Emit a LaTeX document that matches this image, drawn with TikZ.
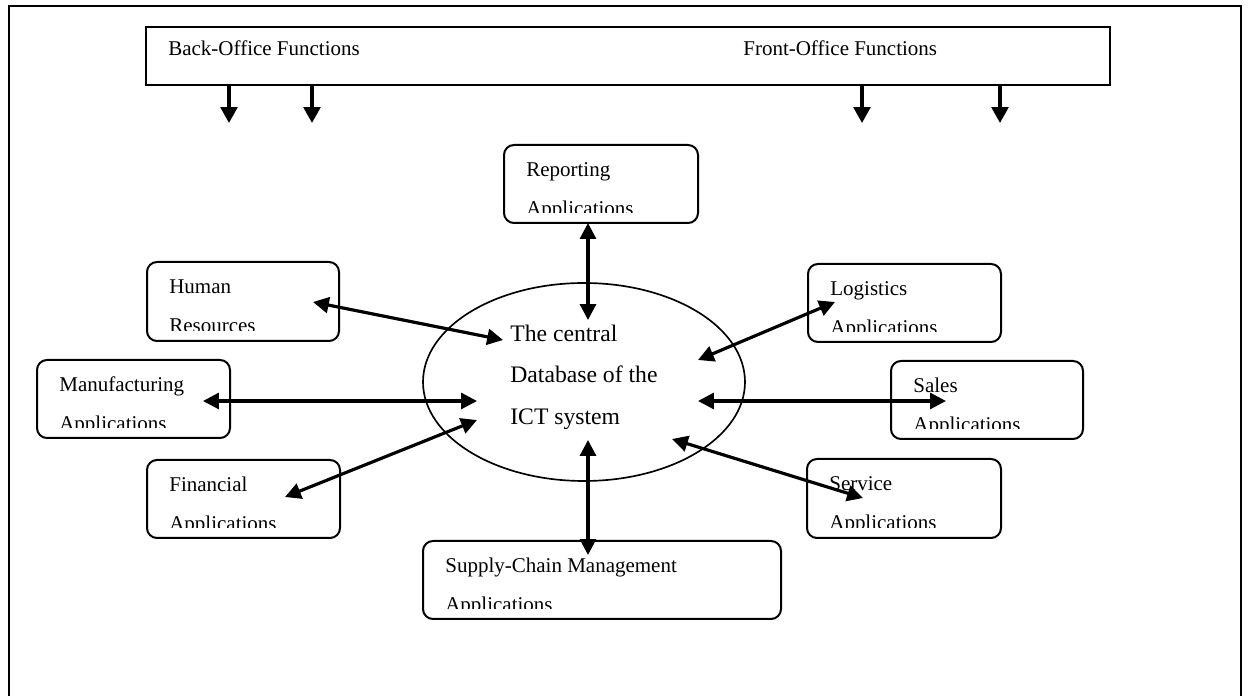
\documentclass[tikz,border=0pt]{standalone}
\usepackage{fontspec}
\setmainfont{Liberation Serif}
\usetikzlibrary{arrows.meta,shapes.geometric,calc,fit}

% Rounded application box whose second text line is cut off at the bottom
\newcommand\drawappbox[7]{%
  \node[appbox,fit={(#2,#3) (#4,#5)}] (#1) {};
  \begin{scope}
    \clip (#1.north west) rectangle ($(#1.south east)+(0,-11)$);
    \node[lbl] (#1-a) at ($(#1.north west)+(23,33)$) {#6};
    \node[lbl] (#1-b) at ($(#1-a.base west)+(0,39)$) {#7};
  \end{scope}}

\begin{document}
\begin{tikzpicture}[x=0.6pt,y=-0.6pt,
  frame/.style={line width=1.2pt},
  appbox/.style={draw,line width=1.2pt,rounded corners=6pt,inner sep=0pt},
  lbl/.style={inner sep=0pt,anchor=base west,font=\fontsize{12.6pt}{15pt}\selectfont},
  dblbl/.style={inner sep=0pt,anchor=base west,font=\fontsize{14.2pt}{17pt}\selectfont},
  link/.style={line width=1.9pt,{Triangle[length=9.5pt,width=9.5pt]}-{Triangle[length=9.5pt,width=9.5pt]}},
  down/.style={line width=1.9pt,-{Triangle[length=9.5pt,width=10pt]}}]
\useasboundingbox (0,0) rectangle (1250,696);

% page frame, open at the bottom
\draw[frame] (9,698) -- (9,6) -- (1241,6) -- (1241,698);

% functions bar
\node[draw,line width=1.2pt,inner sep=0pt,fit={(146,27) (1110,85)}] (bar) {};
\node[lbl] (back) at (168,56) {Back-Office Functions};
\node[lbl] (front) at (743,56) {Front-Office Functions};

\coordinate (d1s) at (229,85);  \coordinate (d1e) at (229,123);
\coordinate (d2s) at (312,85);  \coordinate (d2e) at (312,123);
\coordinate (d3s) at (862,85);  \coordinate (d3e) at (862,123);
\coordinate (d4s) at (1000,85); \coordinate (d4e) at (1000,123);
\foreach \i in {1,...,4} \draw[down] (d\i s) -- (d\i e);

% central database
\node[draw,ellipse,line width=1pt,minimum width=193.2pt,minimum height=118.8pt,inner sep=0pt] (db) at (584,382) {};
\node[dblbl] (db1) at (510,342) {The central};
\node[dblbl] (db2) at (510,383) {Database of the};
\node[dblbl] (db3) at (510,425) {ICT system};

% application boxes
\drawappbox{rep}{504}{145}{698}{223}{Reporting}{Applications}
\drawappbox{hr}{147}{262}{339}{341}{Human}{Resources}
\drawappbox{man}{37}{360}{230}{438}{Manufacturing}{Applications}
\drawappbox{fin}{147}{460}{340}{538}{Financial}{Applications}
\drawappbox{scm}{423}{541}{781}{619}{Supply-Chain Management}{Applications}
\drawappbox{log}{808}{264}{1001}{342}{Logistics}{Applications}
\drawappbox{sal}{891}{361}{1083}{439}{Sales}{Applications}
\drawappbox{ser}{807}{459}{1001}{538}{Service}{Applications}

% arrow ends
\coordinate (repP) at (588,223); \coordinate (repQ) at (588,320);
\coordinate (hrP)  at (313,302); \coordinate (hrQ)  at (503,340);
\coordinate (manP) at (203,401); \coordinate (manQ) at (477,401);
\coordinate (finP) at (285,497); \coordinate (finQ) at (477,420);
\coordinate (scmP) at (588,555); \coordinate (scmQ) at (588,440);
\coordinate (logP) at (835,302); \coordinate (logQ) at (698,360);
\coordinate (salP) at (946,401); \coordinate (salQ) at (698,401);
\coordinate (serP) at (863,498); \coordinate (serQ) at (672,439);

\foreach \n in {rep,hr,man,fin,scm,log,sal,ser}
  \draw[link] (\n P) -- (\n Q);
\end{tikzpicture}
\end{document}
